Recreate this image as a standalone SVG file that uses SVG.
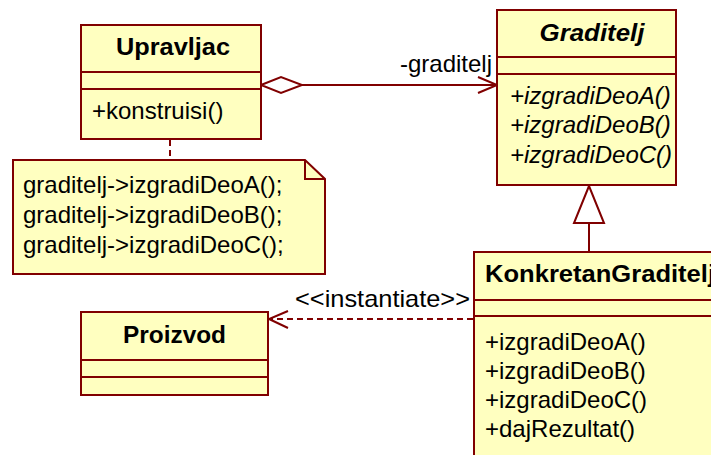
<svg xmlns="http://www.w3.org/2000/svg" width="711" height="455" viewBox="0 0 711 455">
<style>
.box{fill:#FFFFC0;stroke:#800000;stroke-width:2}
.ln{stroke:#800000;stroke-width:2;fill:none}
.dash{stroke:#800000;stroke-width:2;fill:none;stroke-dasharray:6,4}
text{font-family:"Liberation Sans",Arial,sans-serif;font-size:24px;fill:#000}
.t{font-weight:bold;text-anchor:middle}
.i{font-style:italic}
</style>
<rect width="711" height="455" fill="#fff"/>
<g id="connectors">
  <line class="dash" x1="170" y1="140" x2="170" y2="160"/>
  <line class="ln" x1="302" y1="85" x2="497" y2="85"/>
  <polygon points="261,85 281,77 302,85 281,93" fill="#fff" stroke="#800000" stroke-width="2"/>
  <polyline class="ln" points="478,77 497,85 478,93"/>
  <text x="492" y="72" text-anchor="end">-graditelj</text>
  <line class="ln" x1="589" y1="223" x2="589" y2="252"/>
  <polygon points="589,186 574,223 604,223" fill="#fff" stroke="#800000" stroke-width="2"/>
  <line class="dash" x1="473" y1="319" x2="270" y2="319"/>
  <polyline class="ln" points="288,311 269,319 288,328"/>
  <text x="295" y="307" textLength="175" lengthAdjust="spacingAndGlyphs">&lt;&lt;instantiate&gt;&gt;</text>
</g>
<g id="Upravljac">
  <rect class="box" x="81" y="25" width="180" height="114"/>
  <line class="ln" x1="81" y1="72" x2="261" y2="72"/>
  <line class="ln" x1="81" y1="89" x2="261" y2="89"/>
  <text class="t" x="173" y="55" textLength="114" lengthAdjust="spacingAndGlyphs">Upravljac</text>
  <text x="92" y="119">+konstruisi()</text>
</g>
<g id="note">
  <path class="box" d="M13,160 H305 L325,179 V274 H13 Z"/>
  <polyline class="ln" points="305,160 305,179 325,179"/>
  <text x="23" y="193">graditelj-&gt;izgradiDeoA();</text>
  <text x="23" y="223">graditelj-&gt;izgradiDeoB();</text>
  <text x="23" y="253">graditelj-&gt;izgradiDeoC();</text>
</g>
<g id="Graditelj">
  <rect class="box" x="497" y="10" width="179" height="175"/>
  <line class="ln" x1="497" y1="57" x2="676" y2="57"/>
  <line class="ln" x1="497" y1="74" x2="676" y2="74"/>
  <text class="t i" x="592" y="41" textLength="105" lengthAdjust="spacingAndGlyphs">Graditelj</text>
  <text class="i" x="510" y="104">+izgradiDeoA()</text>
  <text class="i" x="510" y="133">+izgradiDeoB()</text>
  <text class="i" x="510" y="163">+izgradiDeoC()</text>
</g>
<g id="KonkretanGraditelj">
  <rect class="box" x="474" y="252" width="300" height="230"/>
  <line class="ln" x1="474" y1="300" x2="774" y2="300"/>
  <line class="ln" x1="474" y1="316" x2="774" y2="316"/>
  <text x="485" y="282" font-weight="bold" textLength="230" lengthAdjust="spacingAndGlyphs">KonkretanGraditelj</text>
  <text x="485" y="350">+izgradiDeoA()</text>
  <text x="485" y="379">+izgradiDeoB()</text>
  <text x="485" y="408">+izgradiDeoC()</text>
  <text x="485" y="437">+dajRezultat()</text>
</g>
<g id="Proizvod">
  <rect class="box" x="81" y="312" width="187" height="83"/>
  <line class="ln" x1="81" y1="360" x2="268" y2="360"/>
  <line class="ln" x1="81" y1="377" x2="268" y2="377"/>
  <text class="t" x="174.5" y="343" textLength="103" lengthAdjust="spacingAndGlyphs">Proizvod</text>
</g>
</svg>
